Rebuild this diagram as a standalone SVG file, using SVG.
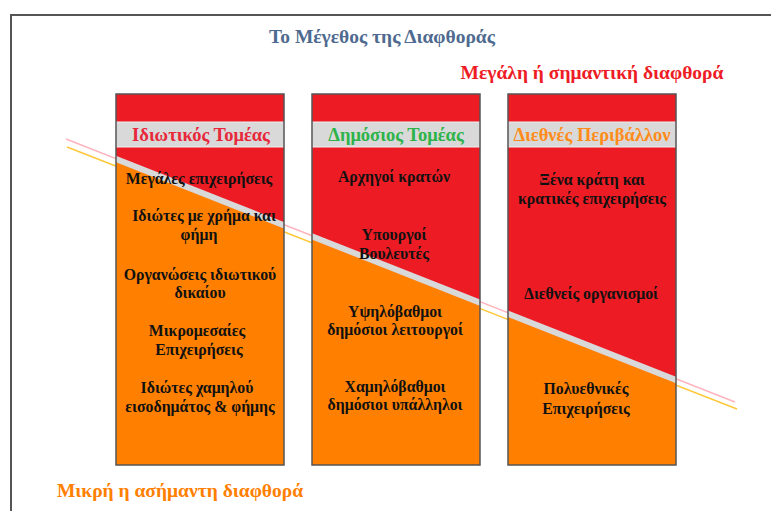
<svg xmlns="http://www.w3.org/2000/svg" width="771" height="511" viewBox="0 0 771 511">
<style>
  text { font-family: "Liberation Serif", "Times New Roman", serif; font-weight: bold; }
  .body { font-size: 15.8px; fill: #111; text-anchor: middle; }
  .hdr { font-size: 18.5px; text-anchor: middle; }
  .big { font-size: 19.5px; text-anchor: middle; }
  .box { fill: none; stroke: #555; stroke-width: 1.5; }
  .band { fill: #D9D9D9; stroke: #eee; stroke-width: 1; }
</style>
<defs>
  <clipPath id="boxes">
    <rect x="116" y="94" width="168" height="371"/>
    <rect x="312" y="94" width="168" height="371"/>
    <rect x="508" y="94" width="168" height="371"/>
  </clipPath>
</defs>
<rect width="771" height="511" fill="#fff"/>
<path d="M11,511 V15 H771" fill="none" stroke="#555" stroke-width="2"/>
<text class="big" x="382" y="43" fill="#4F6A8F">Το Μέγεθος της Διαφθοράς</text>
<text class="big" x="592" y="79" fill="#EE1C25">Μεγάλη ή σημαντική διαφθορά</text>
<text class="big" x="180" y="497" fill="#FF8000">Μικρή η ασήμαντη διαφθορά</text>
<g id="connectors">
  <line x1="66" y1="139" x2="735" y2="402" stroke="#FFB3BE" stroke-width="1.5"/>
  <line x1="67" y1="147" x2="737" y2="409" stroke="#FFC83A" stroke-width="1.5"/>
</g>
<g clip-path="url(#boxes)">
  <rect x="100" y="90" width="600" height="380" fill="#ED1C24"/>
  <polygon points="100,155.5 700,392.3 700,470 100,470" fill="#FF8000"/>
  <line x1="100" y1="152.7" x2="700" y2="389.5" stroke="#D9D9D9" stroke-width="6"/>
</g>
<g id="private">
  <rect class="band" x="116" y="122" width="168" height="25"/>
  <rect class="box" x="116" y="94" width="168" height="371"/>
  <text class="hdr" x="201" y="141" fill="#E8283A">Ιδιωτικός Τομέας</text>
  <text class="body" x="199" y="184">Μεγάλες επιχειρήσεις</text>
  <text class="body" x="204" y="221">Ιδιώτες με χρήμα και</text>
  <text class="body" x="199" y="240">φήμη</text>
  <text class="body" x="200" y="280">Οργανώσεις ιδιωτικού</text>
  <text class="body" x="200" y="298">δικαίου</text>
  <text class="body" x="197" y="336">Μικρομεσαίες</text>
  <text class="body" x="199" y="355">Επιχειρήσεις</text>
  <text class="body" x="197" y="393">Ιδιώτες χαμηλού</text>
  <text class="body" x="200" y="412">εισοδημάτος &amp; φήμης</text>
</g>
<g id="public">
  <rect class="band" x="312" y="122" width="168" height="25"/>
  <rect class="box" x="312" y="94" width="168" height="371"/>
  <text class="hdr" x="396" y="141" fill="#2DB34A">Δημόσιος Τομέας</text>
  <text class="body" x="394" y="182">Αρχηγοί κρατών</text>
  <text class="body" x="394" y="240">Υπουργοί</text>
  <text class="body" x="394" y="259">Βουλευτές</text>
  <text class="body" x="395" y="317">Υψηλόβαθμοι</text>
  <text class="body" x="395" y="335">δημόσιοι λειτουργοί</text>
  <text class="body" x="395" y="392">Χαμηλόβαθμοι</text>
  <text class="body" x="395" y="410">δημόσιοι υπάλληλοι</text>
</g>
<g id="international">
  <rect class="band" x="508" y="122" width="168" height="25"/>
  <rect class="box" x="508" y="94" width="168" height="371"/>
  <text class="hdr" x="592" y="141" fill="#FF8C1A">Διεθνές Περιβάλλον</text>
  <text class="body" x="592" y="185">Ξένα κράτη και</text>
  <text class="body" x="592" y="204">κρατικές επιχειρήσεις</text>
  <text class="body" x="591" y="299">Διεθνείς οργανισμοί</text>
  <text class="body" x="586" y="394">Πολυεθνικές</text>
  <text class="body" x="586" y="414">Επιχειρήσεις</text>
</g>
</svg>
